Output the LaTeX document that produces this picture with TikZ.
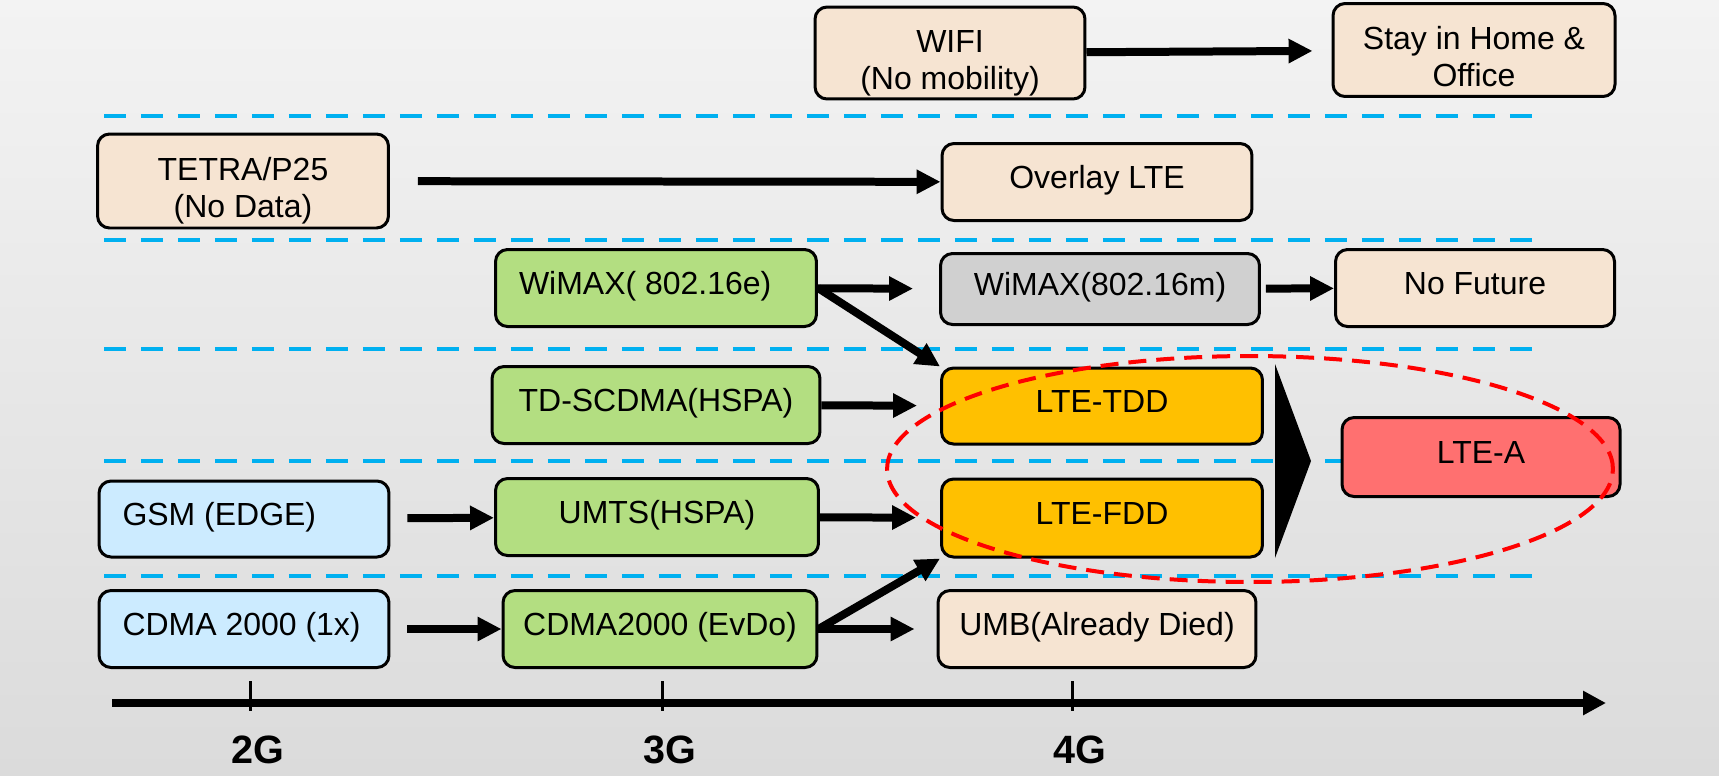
\documentclass[tikz,border=0pt]{standalone}
\usepackage{fontspec}
\setmainfont{Liberation Sans}
\usetikzlibrary{arrows.meta}

\definecolor{peach}{RGB}{246,228,210}
\definecolor{leaf}{RGB}{179,222,129}
\definecolor{sky}{RGB}{204,235,255}
\definecolor{stone}{RGB}{208,208,208}
\definecolor{amber}{RGB}{255,192,0}
\definecolor{salmon}{RGB}{255,112,112}
\definecolor{laneblue}{RGB}{0,176,240}
\definecolor{bgtop}{RGB}{243,243,243}
\definecolor{bgbottom}{RGB}{219,219,219}

\newcommand{\lift}{\rule{0pt}{0.86cm}}
\newcommand{\sink}{\rule[-0.14cm]{0pt}{0pt}}

\tikzset{
  box/.style={draw, line width=0.06cm, rounded corners=0.24cm, inner sep=0pt,
    minimum height=1.54cm, align=center, text height=0.58cm, text depth=0.32cm,
    font=\fontsize{18.2}{21.6}\selectfont},
  twoline/.style={text height=, text depth=},
  padleft/.style={text width=#1, align=flush left, inner xsep=0.47cm},
  arr/.style={line width=0.16cm, -{Triangle[length=0.48cm,width=0.46cm]}},
  divider/.style={laneblue, line width=0.09cm, dash pattern=on 0.44cm off 0.3cm},
  gen/.style={font=\bfseries\fontsize{22.5}{26}\selectfont},
}

\begin{document}
\begin{tikzpicture}[x=0.02cm, y=-0.02cm]
  \useasboundingbox (0,0) rectangle (1719,775);
  \shade[top color=bgtop, bottom color=bgbottom] (0,0) rectangle (1719,775);

  \foreach \y in {116,240,349,461,576}
    \draw[divider] (104,\y) -- (1546,\y);

  \node[box, twoline, fill=peach, minimum width=5.4cm, minimum height=1.84cm] (wifi) at (950,53) {\lift WIFI\\(No mobility)\sink};
  \node[box, twoline, fill=peach, minimum width=5.64cm, minimum height=1.86cm] (home) at (1474,50) {\lift Stay in Home \&\\Office\sink};

  \node[box, twoline, fill=peach, minimum width=5.82cm, minimum height=1.88cm] (tetra) at (243,181) {\lift TETRA/P25\\(No Data)\sink};
  \node[box, fill=peach, minimum width=6.2cm] (overlay) at (1097,182) {Overlay LTE};

  \node[box, fill=leaf, minimum width=6.42cm, padleft=5.48cm] (wimaxe) at (656,288) {WiMAX( 802.16e)};
  \node[box, fill=stone, minimum width=6.38cm, minimum height=1.42cm] (wimaxm) at (1100,289) {WiMAX(802.16m)};
  \node[box, fill=peach, minimum width=5.58cm] (nofuture) at (1475,288) {No Future};

  \node[box, fill=leaf, minimum width=6.56cm] (tdscdma) at (656,405) {TD-SCDMA(HSPA)};
  \node[box, fill=amber, minimum width=6.42cm, minimum height=1.52cm] (ltetdd) at (1102,406) {LTE-TDD};

  \node[box, fill=salmon, minimum width=5.56cm, minimum height=1.58cm] (ltea) at (1481,457) {LTE-A};

  \node[box, fill=sky, minimum width=5.8cm, minimum height=1.52cm, padleft=4.86cm] (gsm) at (244,519) {GSM (EDGE)};
  \node[box, fill=leaf, minimum width=6.46cm] (umts) at (657,517) {UMTS(HSPA)};
  \node[box, fill=amber, minimum width=6.42cm, minimum height=1.56cm] (ltefdd) at (1102,518) {LTE-FDD};

  \node[box, fill=sky, minimum width=5.8cm, padleft=4.86cm] (cdma) at (244,629) {CDMA 2000 (1x)};
  \node[box, fill=leaf, minimum width=6.28cm] (evdo) at (660,629) {CDMA2000 (EvDo)};
  \node[box, fill=peach, minimum width=6.36cm] (umb) at (1097,629) {UMB(Already Died)};

  \draw[arr, shorten >=0.38cm] (wifi) -- (home);
  \draw[arr, shorten <=0.56cm] (tetra) -- (overlay);
  \draw[arr, shorten >=0.52cm] (wimaxe) -- (wimaxm);
  \draw[arr, shorten <=0.1cm] (wimaxm) -- (nofuture);
  \draw[arr] (wimaxe.east) -- (ltetdd.north west);
  \draw[arr, shorten >=0.46cm] (tdscdma) -- (ltetdd);
  \draw[arr, shorten <=0.34cm] (gsm) -- (umts);
  \draw[arr, shorten >=0.48cm] (umts) -- (ltefdd);
  \draw[arr, shorten <=0.34cm] (cdma) -- (evdo);
  \draw[arr, shorten >=0.44cm] (evdo) -- (umb);
  \draw[arr] (evdo.east) -- (ltefdd.south west);

  \fill (1275,364) -- (1311,461) -- (1275,558) -- cycle;

  \draw[red, line width=0.08cm, dash pattern=on 0.36cm off 0.2cm] (1250,469) ellipse [x radius=7.26cm, y radius=2.26cm];

  \coordinate (start) at (112,703);
  \coordinate (end) at (1606,703);
  \draw[line width=0.16cm, -{Triangle[length=0.46cm,width=0.46cm]}] (start) -- (end);
  \foreach \x/\g in {250/2G, 662/3G, 1072/4G} {
    \draw[line width=0.06cm] (\x,681) -- (\x,711);
    \node[gen] (g\g) at (\x+8,750) {\g};
  }
\end{tikzpicture}
\end{document}
